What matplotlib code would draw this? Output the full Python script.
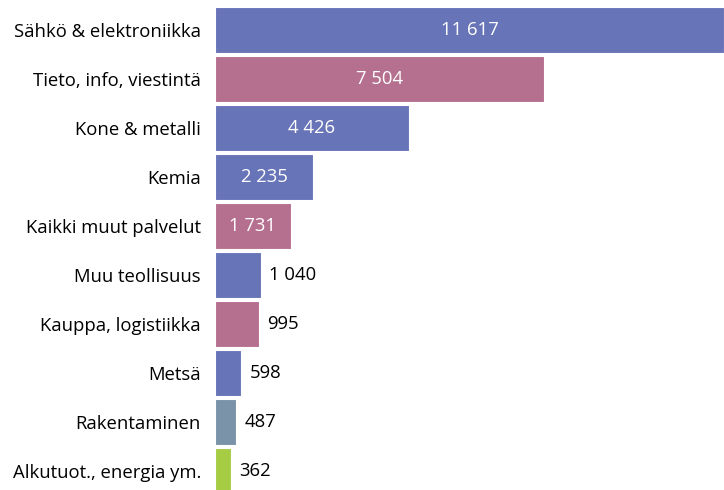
import matplotlib.pyplot as plt

categories = ["Sähkö & elektroniikka", "Tieto, info, viestintä", "Kone & metalli",
              "Kemia", "Kaikki muut palvelut", "Muu teollisuus",
              "Kauppa, logistiikka", "Metsä", "Rakentaminen",
              "Alkutuot., energia ym."]
values = [11617, 7504, 4426, 2235, 1731, 1040, 995, 598, 487, 362]
colors = ["#6874b8", "#b5708f", "#6874b8", "#6874b8", "#b5708f", "#6874b8",
          "#b5708f", "#6874b8", "#7a93a8", "#a6cc44"]
inside = [True, True, True, True, True, False, False, False, False, False]

plt.rcParams['font.family'] = ['Open Sans', 'DejaVu Sans']

fig = plt.figure(figsize=(7.24, 4.9), dpi=100)
ax = fig.add_axes([215 / 724, 0, 509 / 724, 1])

ypos = list(range(len(values)))
ax.barh(ypos, values, height=0.92, color=colors, edgecolor="white", linewidth=0.8)

ax.set_xlim(0, max(values))
ax.set_ylim(9.388, -0.612)
ax.set_yticks(ypos)
ax.set_yticklabels(categories, fontsize=13.3)
ax.tick_params(axis="y", length=0, pad=10)
ax.set_xticks([])
for s in ax.spines.values():
    s.set_visible(False)


def fmt(v):
    return "{:,}".format(v).replace(",", " ")


for y, v, ins in zip(ypos, values, inside):
    if ins:
        ax.text(v / 2, y, fmt(v), color="white", ha="center", va="center", fontsize=13.3)
    else:
        ax.annotate(fmt(v), (v, y), xytext=(6, 0), textcoords="offset points",
                    ha="left", va="center", fontsize=13.3, color="black")

fig.savefig("out.png", dpi=100)
